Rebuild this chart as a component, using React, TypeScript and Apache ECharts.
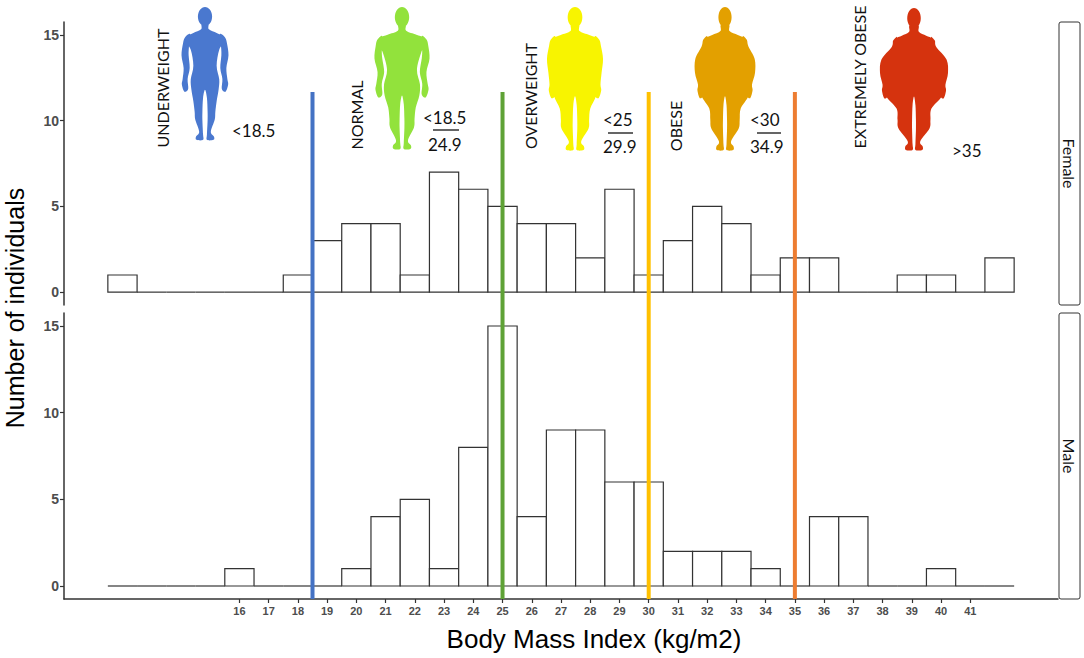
import React, { useEffect, useRef } from "react";
import * as echarts from "echarts";

// ---------- DATA ----------
const bins = [12, 13, 14, 15, 16, 17, 18, 19, 20, 21, 22, 23, 24, 25, 26, 27, 28, 29, 30, 31, 32, 33, 34, 35, 36, 37, 38, 39, 40, 41, 42];
const femaleCounts = [1, 0, 0, 0, 0, 0, 1, 3, 4, 4, 1, 7, 6, 5, 4, 4, 2, 6, 1, 3, 5, 4, 1, 2, 2, 0, 0, 1, 1, 0, 2];
const maleCounts = [0, 0, 0, 0, 1, 0, 0, 0, 1, 4, 5, 1, 8, 15, 4, 9, 9, 6, 6, 2, 2, 2, 1, 0, 4, 4, 0, 0, 1, 0, 0];
const xTickValues = [16, 17, 18, 19, 20, 21, 22, 23, 24, 25, 26, 27, 28, 29, 30, 31, 32, 33, 34, 35, 36, 37, 38, 39, 40, 41];
const yTickValues = [0, 5, 10, 15];
const thresholdValues = [18.5, 25, 30, 35];
const thresholdColors = ["#4472C4", "#5FA236", "#FFC000", "#ED7D31"];
const panelNames = ["Female", "Male"];
const categoryNames = ["UNDERWEIGHT", "NORMAL", "OVERWEIGHT", "OBESE", "EXTREMELY OBESE"];
const categoryColors = ["#4A78CF", "#92E23C", "#F8F400", "#E3A000", "#D5330E"];

// ---------- silhouettes (decoration) ----------
type BodySpec = {
  head: number; n: number; S: number; T: number; W: number; Hp: number;
  K: number; calf: number; An: number; gap: number; aw: number;
};
const bodySpecs: BodySpec[] = [
  { head: 11, n: 5, S: 30, T: 22, W: 18, Hp: 22, K: 16, calf: 15, An: 9, gap: 5, aw: 11 },
  { head: 12, n: 6, S: 40, T: 32, W: 25, Hp: 30, K: 21, calf: 20, An: 10, gap: 4, aw: 13 },
  { head: 13, n: 7, S: 42, T: 39, W: 38, Hp: 38, K: 25, calf: 24, An: 11, gap: -2, aw: 13 },
  { head: 13, n: 8, S: 42, T: 46, W: 52, Hp: 47, K: 29, calf: 27, An: 12, gap: -3, aw: 13 },
  { head: 14, n: 9, S: 42, T: 52, W: 62, Hp: 58, K: 34, calf: 32, An: 13, gap: -3, aw: 14 },
];

const f = (v: number) => v.toFixed(2);
function smoothClosed(pts: number[][]): string {
  const n = pts.length;
  let d = "M" + f(pts[0][0]) + " " + f(pts[0][1]) + " ";
  for (let i = 0; i < n; i++) {
    const p0 = pts[(i - 1 + n) % n], p1 = pts[i], p2 = pts[(i + 1) % n], p3 = pts[(i + 2) % n];
    const c1 = [p1[0] + (p2[0] - p0[0]) / 6, p1[1] + (p2[1] - p0[1]) / 6];
    const c2 = [p2[0] - (p3[0] - p1[0]) / 6, p2[1] - (p3[1] - p1[1]) / 6];
    d += "C" + f(c1[0]) + " " + f(c1[1]) + " " + f(c2[0]) + " " + f(c2[1]) + " " + f(p2[0]) + " " + f(p2[1]) + " ";
  }
  return d + "Z ";
}
function bodyParts(b: BodySpec) {
  const head: number[][] = [];
  for (let i = 0; i < 16; i++) {
    const a = -Math.PI / 2 + (i * 2 * Math.PI) / 16;
    head.push([b.head * Math.cos(a), 27 + 21 * Math.sin(a)]);
  }
  const prof = [[63, b.S * 0.6], [78, b.S], [95, b.T], [135, b.W], [165, b.Hp], [195, b.Hp]];
  const torsoX = (y: number) => {
    if (y <= prof[0][0]) return prof[0][1];
    for (let i = 1; i < prof.length; i++) {
      if (y <= prof[i][0]) {
        const t = (y - prof[i - 1][0]) / (prof[i][0] - prof[i - 1][0]);
        return prof[i - 1][1] + t * (prof[i][1] - prof[i - 1][1]);
      }
    }
    return prof[prof.length - 1][1];
  };
  const right = [
    [b.n, 42], [b.n + 1, 55], [b.S * 0.6, 63], [b.S - 4, 69], [b.S, 80], [b.T, 100], [b.W, 135],
    [b.Hp, 165], [b.Hp - 1, 188], [b.K + 2, 213], [b.K, 236], [b.calf, 254], [b.An, 280],
    [b.An + 5, 291], [b.An + 4, 298], [3, 298], [3, 286], [4, 256], [4, 236], [3, 206], [0, 188],
  ];
  const left = right.slice(0, -1).reverse().map((p) => [-p[0], p[1]]);
  const torso = right.concat(left);
  const xi = (y: number) => torsoX(y) + b.gap;
  const armR = [
    [b.S - 7, 66], [b.S + 1, 73], [b.S + 4, 86],
    [xi(112) + b.aw, 112], [xi(140) + b.aw * 0.85, 140], [xi(164) + b.aw * 0.7, 164],
    [xi(176) + b.aw * 0.8, 176], [xi(188) + b.aw * 0.45, 192], [xi(182) - 1, 186],
    [xi(164), 164], [xi(140), 140], [xi(112), 112], [xi(96) - 2, 95],
  ];
  const armL = armR.map((p) => [-p[0], p[1]]).reverse();
  const all = torso.concat(armR);
  const half = Math.max(...all.map((p) => Math.abs(p[0])));
  return { d: smoothClosed(head) + smoothClosed(torso) + smoothClosed(armR) + smoothClosed(armL), half };
}

const bodyInfo = bodySpecs.map(bodyParts);
let registered = false;
function registerBodies() {
  if (registered) return;
  bodyInfo.forEach((info, i) => {
    echarts.graphic.registerShape("body" + i, echarts.graphic.extendPath(info.d, {}) as any);
  });
  registered = true;
}

const figCenters = [205, 402, 575, 725, 914];
const figTops = [7, 7, 7, 7, 8];
const figBottoms = [140, 149, 150, 150, 150];
const figWidths = [47, 55, 56, 60, 68];

const FONT = "Lato, 'Open Sans', sans-serif";
const AXFONT = "'Liberation Sans', Arial, sans-serif";

function histRender(params: any, api: any) {
  const x = api.value(0);
  const y = api.value(1);
  const p0 = api.coord([x - 0.5, 0]);
  const p1 = api.coord([x + 0.5, y]);
  if (y === 0) {
    return {
      type: "line",
      shape: { x1: p0[0], y1: p0[1], x2: p1[0], y2: p0[1] },
      style: { stroke: "#333", lineWidth: 1.2 },
    };
  }
  return {
    type: "rect",
    shape: { x: p0[0], y: p1[1], width: p1[0] - p0[0], height: p0[1] - p1[1] },
    style: { fill: "#fff", stroke: "#333", lineWidth: 1.2 },
  };
}

export default function App() {
  const ref = useRef<HTMLDivElement>(null);
  useEffect(() => {
    if (!ref.current) return;
    registerBodies();
    const chart = echarts.init(ref.current, null, { renderer: "svg" });

    const graphics: any[] = [];
    bodyInfo.forEach((info, i) => {
      const sx = figWidths[i] / (2 * info.half);
      const sy = (figBottoms[i] - figTops[i]) / 292;
      graphics.push({
        type: "body" + i,
        x: figCenters[i],
        y: figTops[i] - 6 * sy,
        scaleX: sx,
        scaleY: sy,
        style: { fill: categoryColors[i] },
        silent: true,
      });
    });
    const vText = (text: string, x: number, y: number) => ({
      type: "text",
      x,
      y,
      rotation: Math.PI / 2,
      style: { text, fill: "#111", fontSize: 16, fontFamily: FONT, align: "center", verticalAlign: "middle" },
    });
    const hText = (text: string, x: number, y: number) => ({
      type: "text",
      x,
      y,
      style: { text, fill: "#111", fontSize: 17, fontFamily: FONT, align: "left", verticalAlign: "middle" },
    });
    const uLine = (x1: number, x2: number, y: number) => ({
      type: "line",
      shape: { x1, y1: y, x2, y2: y },
      style: { stroke: "#111", lineWidth: 1.3 },
    });
    graphics.push(vText(categoryNames[0], 162, 88));
    graphics.push(hText("<18.5", 232, 130));
    graphics.push(vText(categoryNames[1], 356, 115));
    graphics.push(hText("<18.5", 423, 117));
    graphics.push(uLine(433, 459, 130));
    graphics.push(hText("24.9", 428, 144));
    graphics.push(vText(categoryNames[2], 530, 96));
    graphics.push(hText("<25", 603, 119));
    graphics.push(uLine(608, 633, 133));
    graphics.push(hText("29.9", 603, 146));
    graphics.push(vText(categoryNames[3], 675, 126));
    graphics.push(hText("<30", 750, 119));
    graphics.push(uLine(757, 781, 133));
    graphics.push(hText("34.9", 750, 146));
    graphics.push(vText(categoryNames[4], 859, 77));
    graphics.push(hText(">35", 952, 150));

    const strips = [
      { y: 22, h: 283 },
      { y: 313, h: 286 },
    ];
    strips.forEach((s, i) => {
      graphics.push({
        type: "rect",
        shape: { x: 1059, y: s.y, width: 21, height: s.h, r: 2 },
        style: { fill: "#fff", stroke: "#333", lineWidth: 1 },
      });
      graphics.push({
        type: "text",
        x: 1069.5,
        y: s.y + s.h / 2,
        rotation: -Math.PI / 2,
        style: { text: panelNames[i], fill: "#111", fontSize: 16, fontFamily: FONT, align: "center", verticalAlign: "middle" },
      });
    });

    graphics.push({
      type: "text",
      x: 15,
      y: 308,
      rotation: Math.PI / 2,
      style: { text: "Number of individuals", fill: "#000", fontSize: 25, fontFamily: AXFONT, align: "center", verticalAlign: "middle" },
    });
    graphics.push({
      type: "text",
      x: 594,
      y: 639,
      style: { text: "Body Mass Index (kg/m2)", fill: "#000", fontSize: 26, fontFamily: AXFONT, align: "center", verticalAlign: "middle" },
    });

    const yAxisFor = (gi: number) => ({
      gridIndex: gi,
      type: "value",
      min: -0.75,
      max: 15.75,
      axisLine: { show: true, onZero: false, lineStyle: { color: "#333", width: 1.5 } },
      axisTick: { show: true, customValues: yTickValues, length: 4, lineStyle: { color: "#333", width: 1.2 } },
      axisLabel: { customValues: yTickValues, color: "#4d4d4d", fontWeight: "bold", fontSize: 14, fontFamily: AXFONT, margin: 5 },
      splitLine: { show: false },
    });

    const option: any = {
      animation: false,
      backgroundColor: "#fff",
      grid: [
        { left: 64, top: 22, width: 994, height: 283 },
        { left: 64, top: 313, width: 994, height: 286 },
        { left: 64, top: 92, width: 994, height: 507 },
      ],
      xAxis: [
        { gridIndex: 0, type: "value", min: 10, max: 44, show: false },
        {
          gridIndex: 1,
          type: "value",
          min: 10,
          max: 44,
          axisLine: { show: true, onZero: false, lineStyle: { color: "#333", width: 1.5 } },
          axisTick: { show: true, customValues: xTickValues, length: 4, lineStyle: { color: "#333", width: 1.2 } },
          axisLabel: { customValues: xTickValues, color: "#4d4d4d", fontWeight: "bold", fontSize: 11, fontFamily: AXFONT, margin: 6 },
          splitLine: { show: false },
        },
        { gridIndex: 2, type: "value", min: 10, max: 44, show: false },
      ],
      yAxis: [yAxisFor(0), yAxisFor(1), { gridIndex: 2, type: "value", min: 0, max: 1, show: false }],
      series: [
        {
          type: "custom",
          name: "Female",
          xAxisIndex: 0,
          yAxisIndex: 0,
          renderItem: histRender,
          data: bins.map((b, i) => [b, femaleCounts[i]]),
          z: 2,
          silent: true,
        },
        {
          type: "custom",
          name: "Male",
          xAxisIndex: 1,
          yAxisIndex: 1,
          renderItem: histRender,
          data: bins.map((b, i) => [b, maleCounts[i]]),
          z: 2,
          silent: true,
        },
        ...thresholdValues.map((v, i) => ({
          type: "line",
          xAxisIndex: 2,
          yAxisIndex: 2,
          data: [
            [v, 0],
            [v, 1],
          ],
          symbol: "none",
          lineStyle: { color: thresholdColors[i], width: 4 },
          z: 5,
          silent: true,
        })),
      ],
      graphic: graphics,
    };
    chart.setOption(option);
    return () => chart.dispose();
  }, []);
  return <div ref={ref} style={{ position: "fixed", left: 0, top: 0, width: 1084, height: 658, background: "#fff" }} />;
}
